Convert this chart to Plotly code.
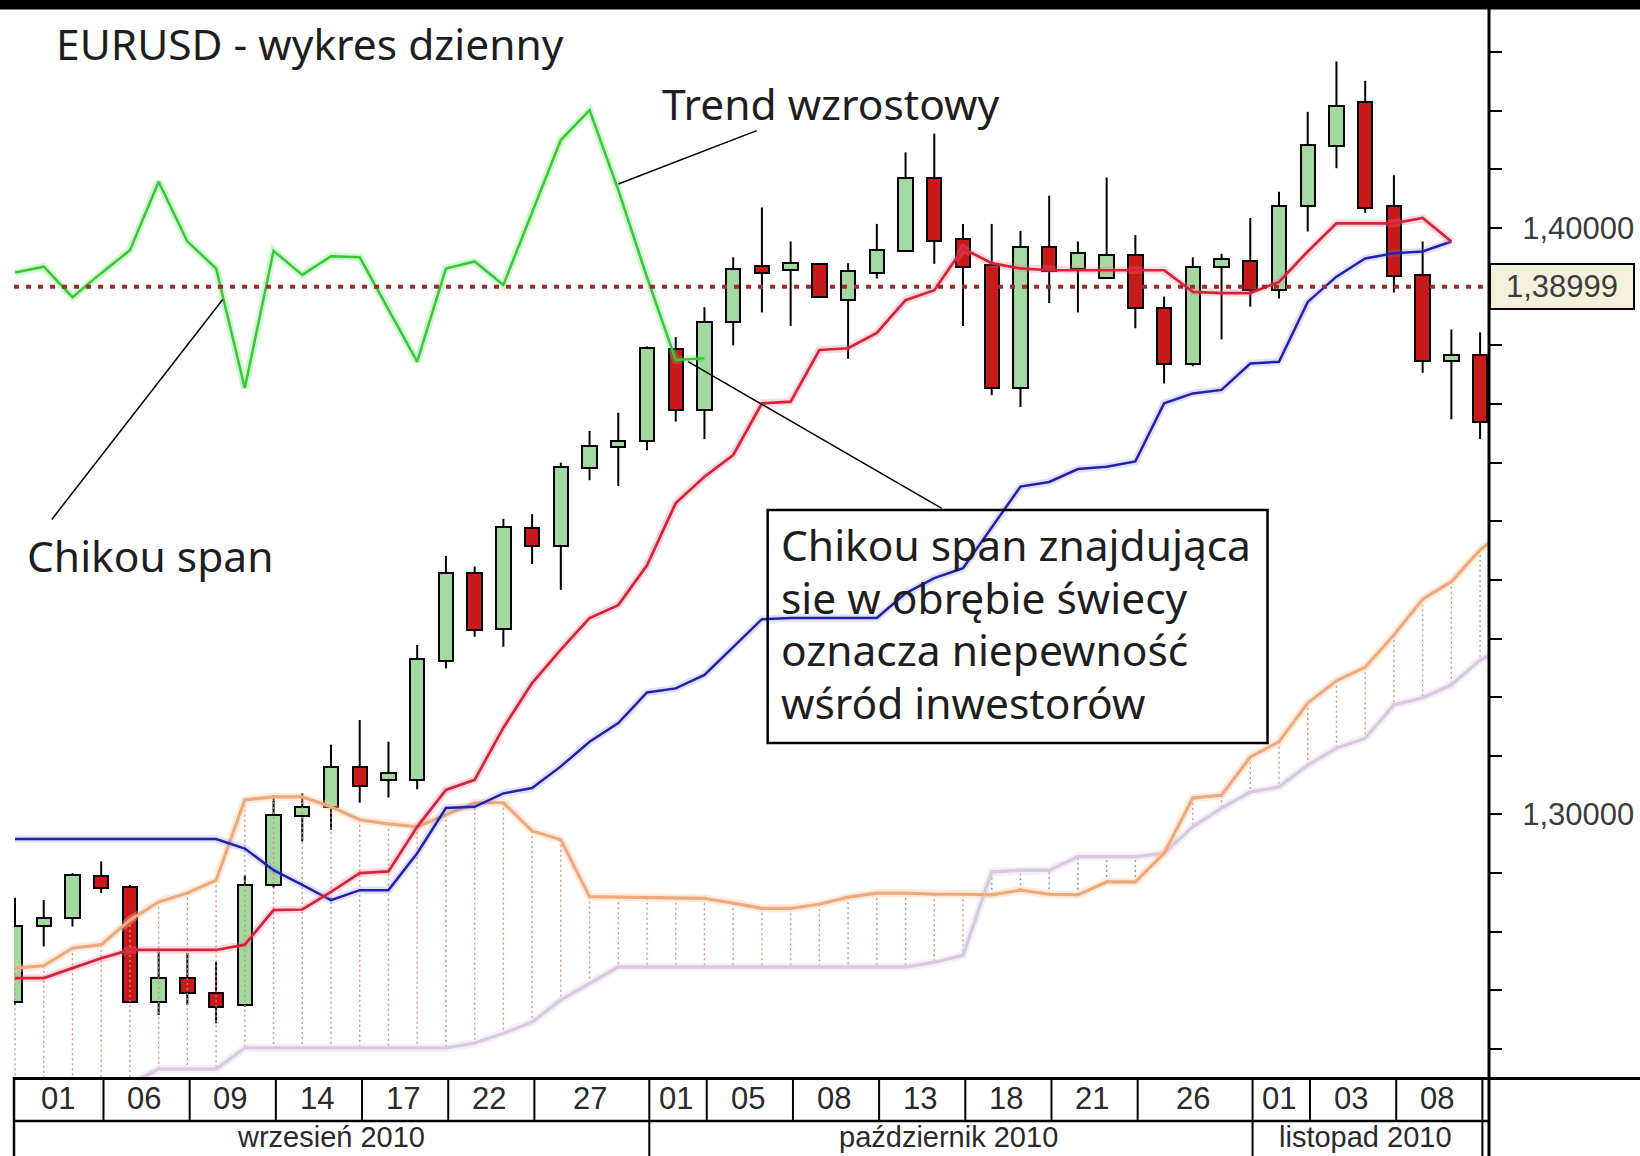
import plotly.graph_objects as go

# EURUSD daily sessions 31.08.2010 - 10.11.2010
open_ = [1.2680, 1.2810, 1.2823, 1.2895, 1.2877, 1.2681, 1.2721, 1.2696, 1.2675, 1.2880,
         1.2997, 1.3013, 1.3081, 1.3059, 1.3059, 1.3262, 1.3411, 1.3317, 1.3488, 1.3457,
         1.3590, 1.3627, 1.3636, 1.3793, 1.3690, 1.3839, 1.3935, 1.3928, 1.3939, 1.3878,
         1.3924, 1.3960, 1.4086, 1.3981, 1.3937, 1.3727, 1.3967, 1.3930, 1.3914, 1.3954,
         1.3863, 1.3768, 1.3934, 1.3943, 1.3895, 1.4038, 1.4140, 1.4214, 1.4038, 1.3920,
         1.3774, 1.3783]
high = [1.2858, 1.2854, 1.2900, 1.2920, 1.2880, 1.2766, 1.2764, 1.2749, 1.2897, 1.3033,
        1.3036, 1.3119, 1.3161, 1.3124, 1.3289, 1.3441, 1.3423, 1.3504, 1.3512, 1.3600,
        1.3654, 1.3685, 1.3798, 1.3814, 1.3865, 1.3950, 1.4035, 1.3977, 1.3939, 1.3940,
        1.4007, 1.4129, 1.4161, 1.4007, 1.4007, 1.3995, 1.4055, 1.3977, 1.4086, 1.3988,
        1.3883, 1.3950, 1.3956, 1.4017, 1.4062, 1.4198, 1.4284, 1.4251, 1.4090, 1.3977,
        1.3827, 1.3822]
low = [1.2675, 1.2775, 1.2809, 1.2866, 1.2679, 1.2658, 1.2675, 1.2644, 1.2672, 1.2875,
       1.2954, 1.2974, 1.3020, 1.3029, 1.3043, 1.3249, 1.3303, 1.3286, 1.3427, 1.3383,
       1.3570, 1.3560, 1.3621, 1.3670, 1.3640, 1.3800, 1.3856, 1.3833, 1.3882, 1.3777,
       1.3914, 1.3959, 1.3939, 1.3833, 1.3715, 1.3695, 1.3872, 1.3856, 1.3914, 1.3829,
       1.3735, 1.3764, 1.3810, 1.3866, 1.3880, 1.3994, 1.4102, 1.4026, 1.3890, 1.3753,
       1.3674, 1.3640]
close = [1.2810, 1.2823, 1.2897, 1.2875, 1.2681, 1.2721, 1.2695, 1.2672, 1.2880, 1.2999,
         1.3013, 1.3081, 1.3049, 1.3070, 1.3265, 1.3411, 1.3315, 1.3491, 1.3457, 1.3592,
         1.3628, 1.3637, 1.3795, 1.3690, 1.3839, 1.3930, 1.3924, 1.3940, 1.3882, 1.3926,
         1.3962, 1.4086, 1.3977, 1.3934, 1.3727, 1.3967, 1.3927, 1.3958, 1.3954, 1.3863,
         1.3768, 1.3934, 1.3947, 1.3895, 1.4038, 1.4142, 1.4208, 1.4034, 1.3918, 1.3774,
         1.3783, 1.3670]

# Ichimoku lines
chikou = [1.3924, 1.3934, 1.3882, 1.3923, 1.3962, 1.4079, 1.3977, 1.3931, 1.3727, 1.3961,
          1.3920, 1.3952, 1.3950, 1.3862, 1.3772, 1.3931, 1.3943, 1.3903, 1.4027, 1.4150,
          1.4201, 1.4065, 1.3916, 1.3775, 1.3778]
tenkan = [1.2721, 1.2721, 1.2738, 1.2755, 1.2769, 1.2769, 1.2769, 1.2769, 1.2778, 1.2837,
          1.2838, 1.2868, 1.2900, 1.2903, 1.2979, 1.3042, 1.3059, 1.3148, 1.3224, 1.3281,
          1.3335, 1.3357, 1.3425, 1.3531, 1.3576, 1.3613, 1.3701, 1.3704, 1.3792, 1.3795,
          1.3821, 1.3877, 1.3894, 1.3965, 1.3940, 1.3931, 1.3928, 1.3928, 1.3928, 1.3928,
          1.3928, 1.3891, 1.3889, 1.3889, 1.3908, 1.3960, 1.4008, 1.4008, 1.4008, 1.4017,
          1.3977]
kijun = [1.2958, 1.2958, 1.2958, 1.2958, 1.2958, 1.2958, 1.2958, 1.2958, 1.2942, 1.2905,
         1.2880, 1.2854, 1.2871, 1.2871, 1.2934, 1.3011, 1.3013, 1.3036, 1.3045, 1.3082,
         1.3124, 1.3156, 1.3208, 1.3215, 1.3238, 1.3286, 1.3333, 1.3335, 1.3335, 1.3335,
         1.3335, 1.3377, 1.3403, 1.3420, 1.3490, 1.3559, 1.3567, 1.3589, 1.3593, 1.3602,
         1.3701, 1.3718, 1.3724, 1.3769, 1.3772, 1.3874, 1.3917, 1.3948, 1.3957, 1.3960,
         1.3977]
senkou_a = [1.2738, 1.2742, 1.2772, 1.2778, 1.2820, 1.2851, 1.2866, 1.2888, 1.3025, 1.3030,
            1.3030, 1.3013, 1.2991, 1.2984, 1.2979, 1.2999, 1.3020, 1.3020, 1.2972, 1.2957,
            1.2860, 1.2859, 1.2858, 1.2858, 1.2857, 1.2849, 1.2840, 1.2840, 1.2847, 1.2859,
            1.2866, 1.2866, 1.2864, 1.2864, 1.2863, 1.2871, 1.2864, 1.2863, 1.2885, 1.2885,
            1.2934, 1.3028, 1.3033, 1.3098, 1.3124, 1.3190, 1.3228, 1.3251, 1.3306, 1.3367,
            1.3397, 1.3451, 1.3489]
senkou_b = [1.2527, 1.2527, 1.2527, 1.2527, 1.2540, 1.2566, 1.2566, 1.2566, 1.2602, 1.2602,
            1.2602, 1.2602, 1.2602, 1.2602, 1.2602, 1.2602, 1.2610, 1.2627, 1.2646, 1.2684,
            1.2712, 1.2740, 1.2740, 1.2740, 1.2740, 1.2740, 1.2740, 1.2740, 1.2740, 1.2740,
            1.2740, 1.2740, 1.2748, 1.2760, 1.2902, 1.2905, 1.2905, 1.2928, 1.2928, 1.2928,
            1.2934, 1.2979, 1.3011, 1.3038, 1.3047, 1.3084, 1.3113, 1.3130, 1.3187, 1.3199,
            1.3221, 1.3263, 1.3289]
last_price = 1.38999

# time axis: cell borders (session index) and labels
day_seps = [0, 3, 6, 9, 12, 15, 18, 22, 24, 27, 30, 33, 36, 39, 43, 45, 48, 51]
day_labels = ["01", "06", "09", "14", "17", "22", "27", "01", "05", "08", "13", "18",
              "21", "26", "01", "03", "08"]
month_seps = [0, 22, 43, 51]
month_labels = ["wrzesień 2010", "październik 2010", "listopad 2010"]

price_ticks = [1.26, 1.27, 1.28, 1.29, 1.30, 1.31, 1.32, 1.33, 1.34, 1.35,
               1.36, 1.37, 1.38, 1.39, 1.40, 1.41, 1.42, 1.43]
price_labels = ["1,30000" if abs(t - 1.30) < 1e-9 else "1,40000" if abs(t - 1.40) < 1e-9 else ""
                for t in price_ticks]

box_lines = ["Chikou span znajdująca", "sie w obrębie świecy", "oznacza niepewność",
             "wśród inwestorów"]

GREEN_BODY = "#a3d9a0"
RED_BODY = "#c81a1a"
TEXT_FONT = "Noto Sans"
AXIS_FONT = "Liberation Sans"

fig = go.Figure()

# candle bodies
idx = list(range(len(close)))
fig.add_trace(go.Bar(
    x=idx,
    y=[abs(c - o) for o, c in zip(open_, close)],
    base=[min(o, c) for o, c in zip(open_, close)],
    width=0.5,
    marker=dict(color=[GREEN_BODY if c >= o else RED_BODY for o, c in zip(open_, close)],
                line=dict(color="black", width=2)),
    hoverinfo="skip",
))

# wicks (outside the body only)
wx, wy = [], []
for i, (o, h, l, c) in enumerate(zip(open_, high, low, close)):
    top, bot = max(o, c), min(o, c)
    if h > top:
        wx += [i, i, None]
        wy += [h, top, None]
    if l < bot:
        wx += [i, i, None]
        wy += [bot, l, None]
fig.add_trace(go.Scatter(x=wx, y=wy, mode="lines", line=dict(color="black", width=2),
                         hoverinfo="skip"))

# cloud hatching
bx, by, sx, sy = [], [], [], []
for i, (a, b) in enumerate(zip(senkou_a, senkou_b)):
    if a >= b:
        bx += [i, i, None]
        by += [a, b, None]
    else:
        sx += [i, i, None]
        sy += [a, b, None]
fig.add_trace(go.Scatter(x=bx, y=by, mode="lines", hoverinfo="skip",
                         line=dict(color="rgba(205,140,105,0.9)", width=1.4, dash="2px,3px")))
fig.add_trace(go.Scatter(x=sx, y=sy, mode="lines", hoverinfo="skip",
                         line=dict(color="rgba(140,130,160,0.9)", width=1.4, dash="2px,3px")))


def add_line(values, color, glow, width):
    xs = list(range(len(values)))
    fig.add_trace(go.Scatter(x=xs, y=values, mode="lines", hoverinfo="skip",
                             line=dict(color=glow, width=width + 5)))
    fig.add_trace(go.Scatter(x=xs, y=values, mode="lines", hoverinfo="skip",
                             line=dict(color=color, width=width)))


add_line(senkou_b, "#d8cadf", "rgba(225,210,235,0.35)", 3.4)
add_line(senkou_a, "#eeaa7c", "rgba(248,200,160,0.35)", 3.2)
add_line(kijun, "#2222a8", "rgba(120,120,255,0.22)", 2.5)
add_line(tenkan, "#d4233a", "rgba(245,120,140,0.28)", 2.7)
add_line(chikou, "#38c838", "rgba(90,225,90,0.28)", 2.5)

shapes = []
# black band on top
shapes.append(dict(type="rect", xref="paper", yref="paper", x0=-0.02, x1=1.12, y0=1.0005, y1=1.03,
                   fillcolor="black", line=dict(width=0), layer="above"))
# price axis line
shapes.append(dict(type="line", xref="paper", yref="paper", x0=1.0, x1=1.0, y0=-0.09, y1=1.01,
                   line=dict(color="black", width=3), layer="above"))
# last price dotted line
shapes.append(dict(type="line", xref="paper", yref="y", x0=0, x1=1.0, y0=last_price, y1=last_price,
                   line=dict(color="#a02a2a", width=4, dash="5px,7px"), layer="above"))
# time axis frame
shapes.append(dict(type="line", xref="paper", yref="paper", x0=0, x1=1.11, y0=-0.0014, y1=-0.0014,
                   line=dict(color="black", width=3)))
shapes.append(dict(type="line", xref="paper", yref="paper", x0=0, x1=1.0, y0=-0.0412, y1=-0.0412,
                   line=dict(color="black", width=2.5)))
shapes.append(dict(type="line", xref="paper", yref="paper", x0=0, x1=0, y0=-0.09, y1=0,
                   line=dict(color="black", width=2.5)))
for s in day_seps[1:]:
    shapes.append(dict(type="line", xref="x", yref="paper", x0=s + 0.08, x1=s + 0.08,
                       y0=-0.0412, y1=0, line=dict(color="black", width=2)))
for s in month_seps[1:]:
    shapes.append(dict(type="line", xref="x", yref="paper", x0=s + 0.08, x1=s + 0.08,
                       y0=-0.09, y1=-0.0412, line=dict(color="black", width=2)))
# comment box and leader lines
shapes.append(dict(type="rect", xref="x", yref="y", x0=26.2, x1=43.6, y0=1.3122, y1=1.3519,
                   line=dict(color="black", width=2.5), fillcolor="rgba(0,0,0,0)", layer="above"))
for x0, y0, x1, y1 in [(25.82, 1.4166, 21.0, 1.4075),
                       (1.28, 1.3503, 7.23, 1.3878),
                       (23.43, 1.3772, 32.26, 1.3522)]:
    shapes.append(dict(type="line", xref="x", yref="y", x0=x0, y0=y0, x1=x1, y1=y1,
                       line=dict(color="black", width=1.5), layer="above"))

annotations = []
txt = dict(family=TEXT_FONT, size=42.5, color="#1e1e1e")
annotations.append(dict(text="EURUSD - wykres dzienny", x=1.36, y=1.4314, xref="x", yref="y",
                        xanchor="left", yanchor="middle", showarrow=False, font=txt))
annotations.append(dict(text="Trend wzrostowy", x=22.45, y=1.4212, xref="x", yref="y",
                        xanchor="left", yanchor="middle", showarrow=False, font=txt))
annotations.append(dict(text="Chikou span", x=0.35, y=1.3442, xref="x", yref="y",
                        xanchor="left", yanchor="middle", showarrow=False, font=txt))
for k, line in enumerate(box_lines):
    annotations.append(dict(text=line, x=26.58, y=1.3460 - 0.00897 * k, xref="x", yref="y",
                            xanchor="left", yanchor="middle", showarrow=False, font=txt))
annotations.append(dict(text="1,38999", x=1.0, y=last_price, xref="paper", yref="y",
                        xanchor="left", yanchor="middle", showarrow=False,
                        width=142, height=43, bgcolor="#f3f1dc", bordercolor="black",
                        borderwidth=2, borderpad=0,
                        font=dict(family=AXIS_FONT, size=31, color="#3c3c3c")))
axis_font = dict(family=AXIS_FONT, size=31, color="#2a2a2a")
for k, lab in enumerate(day_labels):
    annotations.append(dict(text=lab, x=(day_seps[k] + day_seps[k + 1]) / 2, y=-0.0206,
                            xref="x", yref="paper", xanchor="center", yanchor="middle",
                            showarrow=False, font=axis_font))
month_font = dict(family=AXIS_FONT, size=29, color="#2a2a2a")
for k, lab in enumerate(month_labels):
    annotations.append(dict(text=lab, x=(month_seps[k] + month_seps[k + 1]) / 2, y=-0.0565,
                            xref="x", yref="paper", xanchor="center", yanchor="middle",
                            showarrow=False, font=month_font))

fig.update_layout(
    template="none",
    width=1640, height=1156,
    margin=dict(l=14, r=151, t=10, b=79),
    paper_bgcolor="white", plot_bgcolor="white",
    showlegend=False,
    bargap=0,
    xaxis=dict(range=[-0.035, 51.31], visible=False, fixedrange=True),
    yaxis=dict(range=[1.25524, 1.43717], side="right", showgrid=False, zeroline=False,
               showline=False, ticks="outside", ticklen=12, tickwidth=2, tickcolor="black",
               tickvals=price_ticks, ticktext=price_labels, ticklabelstandoff=14,
               tickfont=dict(family=AXIS_FONT, size=31, color="#3c3c3c"),
               automargin=False, fixedrange=True),
    shapes=shapes,
    annotations=annotations,
)

fig.write_html("out.html", config={"displayModeBar": False},
               post_script="document.body.style.margin='0';document.body.style.overflow='hidden';")
